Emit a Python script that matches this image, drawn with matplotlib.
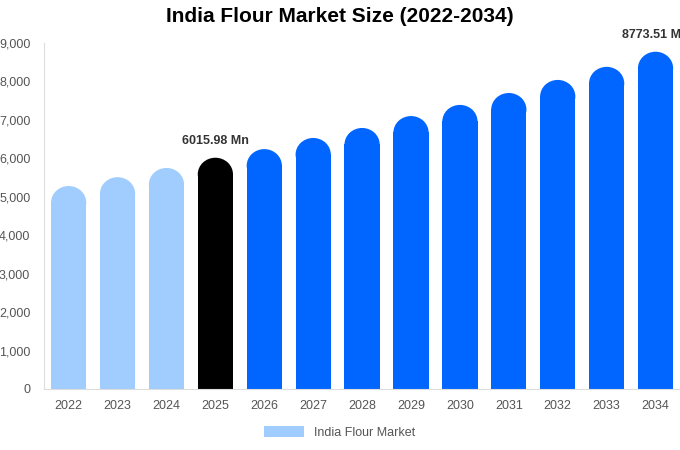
import matplotlib
matplotlib.use("Agg")
import matplotlib.pyplot as plt
from matplotlib.patches import Ellipse, Patch

plt.rcParams['font.family'] = ['Liberation Sans', 'DejaVu Sans']

years = ["2022","2023","2024","2025","2026","2027","2028","2029","2030","2031","2032","2033","2034"]
values = [5280, 5510, 5750, 6015.98, 6240, 6530, 6790, 7100, 7390, 7700, 8040, 8380, 8773.51]
colors = ["#A0CDFD"]*3 + ["#000000"] + ["#0066FF"]*9

fig = plt.figure(figsize=(6.8, 4.5), dpi=100)
ax = fig.add_axes([0.065, 0.1356, 0.935, 0.7688])
w = 0.72
r = 430
for i, (v, c) in enumerate(zip(values, colors)):
    ax.bar(i, v - r + 5, width=w, color=c, linewidth=0)
    ax.add_patch(Ellipse((i, v - r), w, 2*r, facecolor=c, edgecolor="none"))
ax.set_xlim(-0.5, 12.5)
ax.set_ylim(0, 9000)
ax.set_xticks(range(len(years)))
ax.set_xticklabels(years)
ax.set_yticks(range(0, 9001, 1000))
ax.set_yticklabels([f"{v:,}" for v in range(0, 9001, 1000)])
ax.tick_params(length=0, labelsize=9, colors="#555555", pad=8)
ax.tick_params(axis="y", pad=10)
for s in ["top", "right"]:
    ax.spines[s].set_visible(False)
for s in ["left", "bottom"]:
    ax.spines[s].set_color("#dddddd")
ax.text(3, values[3] + 270, "6015.98 Mn", ha="center", va="bottom", fontsize=9, fontweight="bold", color="#333333")
ax.text(12, values[12] + 270, "8773.51 Mn", ha="center", va="bottom", fontsize=9, fontweight="bold", color="#333333", clip_on=False)
fig.suptitle("India Flour Market Size (2022-2034)", fontsize=15, fontweight="bold", y=0.985)
fig.legend(handles=[Patch(facecolor="#A0CDFD", label="India Flour Market")], loc="lower center",
           bbox_to_anchor=(0.5, 0.0), frameon=False, fontsize=9, handlelength=3.2, handleheight=0.9,
           labelcolor="#555555")
fig.savefig("out.png", dpi=100)
